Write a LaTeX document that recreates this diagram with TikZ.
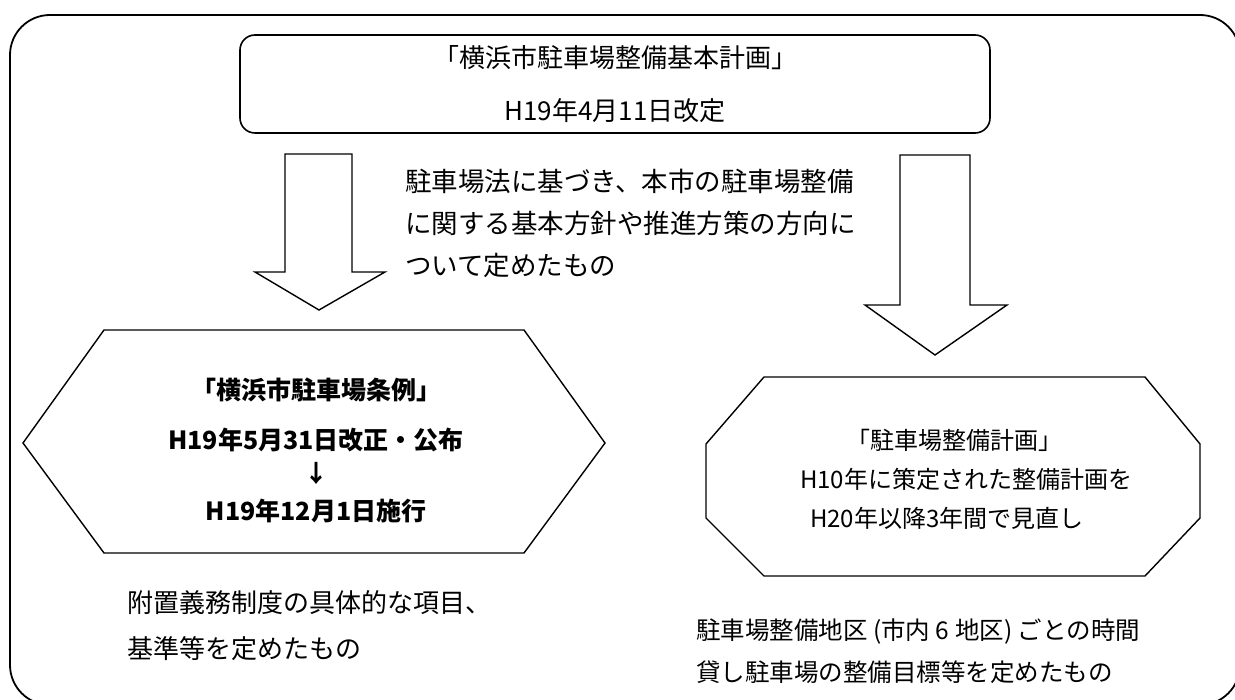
\documentclass[tikz,border=0pt]{standalone}
\usepackage{fontspec}
\setmainfont{Noto Sans CJK JP}
\begin{document}
\begin{tikzpicture}[x=1pt,y=-1pt,
  frameline/.style={draw=black,line width=1.8pt,rounded corners=40pt},
  shapeline/.style={draw=black,line width=1.4pt,line join=miter},
  tx/.style={inner sep=0pt,anchor=base west,font=\fontsize{#1}{#1}\selectfont},
  txc/.style={inner sep=0pt,anchor=base,font=\fontsize{#1}{#1}\selectfont},
  txb/.style={inner sep=0pt,anchor=base,font=\fontsize{#1}{#1}\selectfont\bfseries}]
\useasboundingbox (0,0) rectangle (1235,700);
% outer frame
\draw[frameline] (10,15) rectangle (1240,705);
% top box
\node[draw=black,line width=1.6pt,rounded corners=15pt,minimum width=750pt,minimum height=98pt,
      inner sep=0pt,align=center,font=\fontsize{26}{53}\selectfont] (top) at (615,84)
  {「横浜市駐車場整備基本計画」\\H19年4月11日改定};
% block arrows
\draw[shapeline] (285,154) -- (352,154) -- (352,272) -- (385,272) -- (319,310)
  -- (255,272) -- (285,272) -- cycle;
\draw[shapeline] (900,155) -- (970,155) -- (970,305) -- (1007,305) -- (935,355)
  -- (865,305) -- (900,305) -- cycle;
% middle text
\node[tx=26.5] (m1) at (405,192) {駐車場法に基づき、本市の駐車場整備};
\node[tx=26.5] (m2) at (405,234) {に関する基本方針や推進方策の方向に};
\node[tx=26.5] (m3) at (405,276) {ついて定めたもの};
% left hexagon
\draw[shapeline] (104,330) -- (524,330) -- (605,443) -- (524,553) -- (104,553) -- (23,443) -- cycle;
\node[txb=25] (l1) at (316,399.5) {「横浜市駐車場条例」};
\node[txb=25] (l2) at (316,449.5) {H19年5月31日改正・公布};
\node[txb=24] (l3) at (316,483) {↓};
\node[txb=25] (l4) at (316,520.5) {H19年12月1日施行};
% right octagon
\draw[shapeline] (764,377) -- (1145,377) -- (1200,444) -- (1200,518) -- (1145,576)
  -- (764,576) -- (706,518) -- (706,444) -- cycle;
\node[txc=24] (r1) at (954,450) {「駐車場整備計画」};
\node[tx=24] (r2) at (800,489) {H10年に策定された整備計画を};
\node[tx=24] (r3) at (810,528) {H20年以降3年間で見直し};
% bottom texts
\node[tx=26] (b1) at (127,612) {附置義務制度の具体的な項目、};
\node[tx=26] (b2) at (127,658) {基準等を定めたもの};
\node[tx=24.5] (b3) at (696,639) {駐車場整備地区 (市内 6 地区) ごとの時間};
\node[tx=24.5] (b4) at (696,681) {貸し駐車場の整備目標等を定めたもの};
\end{tikzpicture}
\end{document}
